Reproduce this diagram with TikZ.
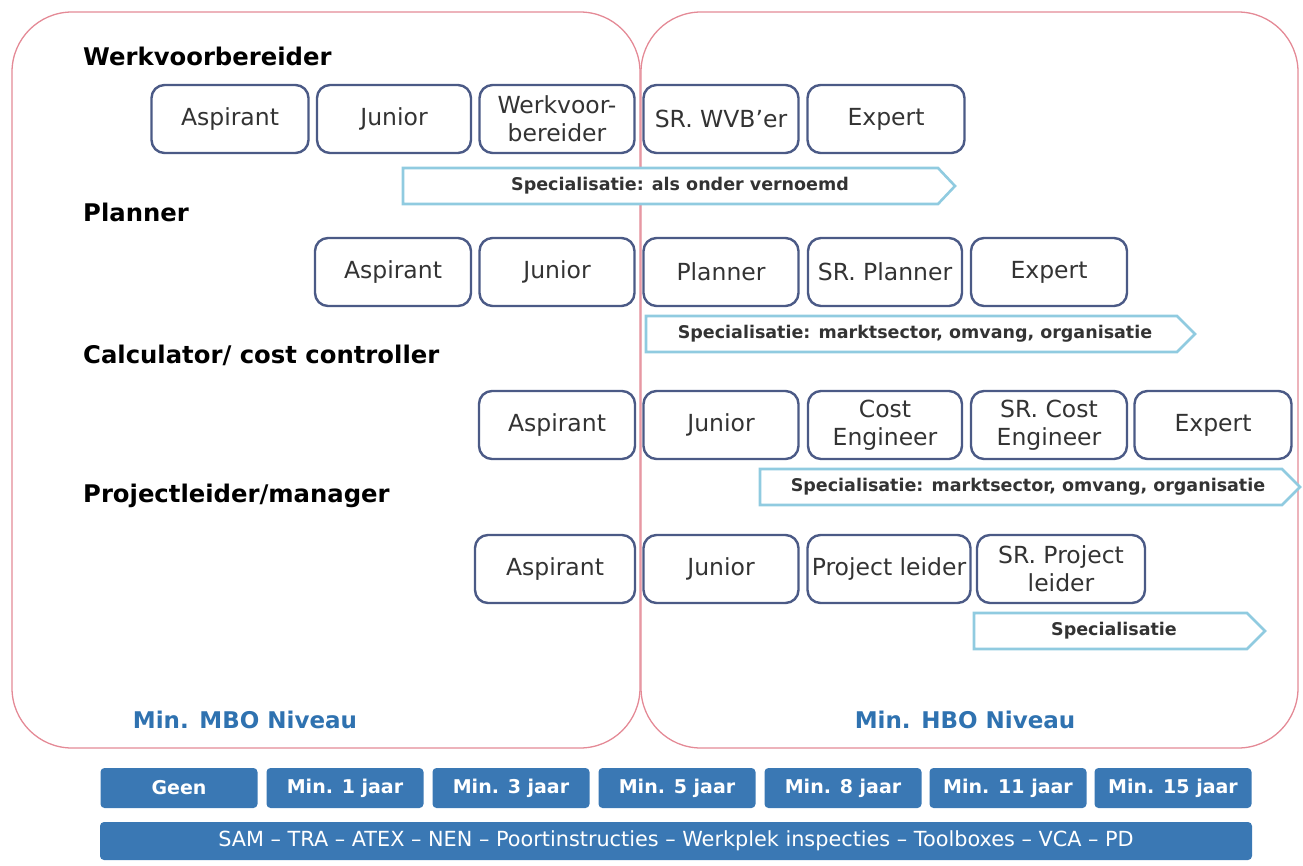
\documentclass[tikz,border=0pt]{standalone}
\usepackage{fontspec}
\setmainfont{DejaVu Sans}
\usetikzlibrary{positioning}
\definecolor{boxline}{HTML}{4B5A86}
\definecolor{boxtext}{HTML}{333333}
\definecolor{specline}{HTML}{90CBE0}
\definecolor{barblue}{HTML}{3A78B4}
\definecolor{framered}{HTML}{E48A96}
\definecolor{nivblue}{HTML}{2F72B0}
\tikzset{
  stagebox/.style={draw=boxline, line width=2.4pt, rounded corners=13pt, fill=white,
    minimum height=68pt, inner sep=0pt, align=center, text=boxtext,
    font=\fontsize{23.5}{28}\selectfont},
  spectext/.style={text=boxtext, font=\fontsize{17.5}{20}\bfseries\selectfont, inner sep=0pt},
  specarrow/.style={draw=specline, line width=2.6pt, fill=white, line join=miter},
  cattitle/.style={anchor=base west, font=\fontsize{24.3}{28}\bfseries\selectfont, inner sep=0pt},
  yearbox/.style={fill=barblue, rounded corners=4pt, minimum height=40pt, minimum width=157pt,
    inner sep=0pt, text=white, font=\fontsize{19}{22}\bfseries\selectfont},
  niveau/.style={text=nivblue, font=\fontsize{23}{26}\bfseries\selectfont, inner sep=0pt},
  frame/.style={draw=framered, line width=1.3pt, rounded corners=60pt}
}
\begin{document}
\begin{tikzpicture}[x=1pt,y=-1pt]
\useasboundingbox (0,0) rectangle (1303,865);
% frames
\draw[frame] (12,12) rectangle (640,748);
\draw[frame] (641,12) rectangle (1298,748);
% titles
\node[cattitle] (t1) at (83,65) {Werkvoorbereider};
\node[cattitle] (t2) at (83,221) {Planner};
\node[cattitle] (t3) at (83,363) {Calculator/ cost controller};
\node[cattitle] (t4) at (83,502) {Projectleider/manager};
% row 1
\node[stagebox, minimum width=157pt] (a1) at (230,119) {Aspirant};
\node[stagebox, minimum width=154pt] (b1) at (394,119) {Junior};
\node[stagebox, minimum width=155pt] (c1) at (557,119) {Werkvoor-\\bereider};
\node[stagebox, minimum width=155pt] (d1) at (721,119) {SR. WVB'er};
\node[stagebox, minimum width=157pt] (e1) at (886,119) {Expert};
\draw[specarrow] (403,168) -- (938,168) -- (955,186) -- (938,204) -- (403,204) -- cycle;
\node[spectext] (s1) at (680,186) {Specialisatie: als onder vernoemd};
% row 2
\node[stagebox, minimum width=156pt] (a2) at (393,272) {Aspirant};
\node[stagebox, minimum width=155pt] (b2) at (557,272) {Junior};
\node[stagebox, minimum width=155pt] (c2) at (721,272) {Planner};
\node[stagebox, minimum width=154pt] (d2) at (885,272) {SR. Planner};
\node[stagebox, minimum width=156pt] (e2) at (1049,272) {Expert};
\draw[specarrow] (646,316) -- (1177,316) -- (1195,334) -- (1177,352) -- (646,352) -- cycle;
\node[spectext] (s2) at (915,334) {Specialisatie: marktsector, omvang, organisatie};
% row 3
\node[stagebox, minimum width=156pt] (a3) at (557,425) {Aspirant};
\node[stagebox, minimum width=155pt] (b3) at (721,425) {Junior};
\node[stagebox, minimum width=154pt] (c3) at (885,425) {Cost\\Engineer};
\node[stagebox, minimum width=156pt] (d3) at (1049,425) {SR. Cost\\Engineer};
\node[stagebox, minimum width=157pt] (e3) at (1213,425) {Expert};
\draw[specarrow] (760,469) -- (1282,469) -- (1300,487) -- (1282,505) -- (760,505) -- cycle;
\node[spectext] (s3) at (1028,487) {Specialisatie: marktsector, omvang, organisatie};
% row 4
\node[stagebox, minimum width=160pt] (a4) at (555,569) {Aspirant};
\node[stagebox, minimum width=155pt] (b4) at (721,569) {Junior};
\node[stagebox, minimum width=163pt] (c4) at (889,569) {Project leider};
\node[stagebox, minimum width=168pt] (d4) at (1061,569) {SR. Project\\leider};
\draw[specarrow] (974,613) -- (1247,613) -- (1265,631) -- (1247,649) -- (974,649) -- cycle;
\node[spectext] (s4) at (1114,631) {Specialisatie};
% niveau labels
\node[niveau] (mbo) at (245,720) {Min. MBO Niveau};
\node[niveau] (hbo) at (965,720) {Min. HBO Niveau};
% years
\node[yearbox] (y0) at (179,788) {Geen};
\node[yearbox] (y1) at (345,788) {Min. 1 jaar};
\node[yearbox] (y2) at (511,788) {Min. 3 jaar};
\node[yearbox] (y3) at (677,788) {Min. 5 jaar};
\node[yearbox] (y4) at (843,788) {Min. 8 jaar};
\node[yearbox] (y5) at (1008,788) {Min. 11 jaar};
\node[yearbox] (y6) at (1173,788) {Min. 15 jaar};
\node[fill=barblue, rounded corners=4pt, minimum width=1152pt, minimum height=38pt, inner sep=0pt,
  text=white, font=\fontsize{20.8}{23}\selectfont] (bar) at (676,841)
  {SAM -- TRA -- ATEX -- NEN -- Poortinstructies -- Werkplek inspecties -- Toolboxes -- VCA -- PD};
\end{tikzpicture}
\end{document}
